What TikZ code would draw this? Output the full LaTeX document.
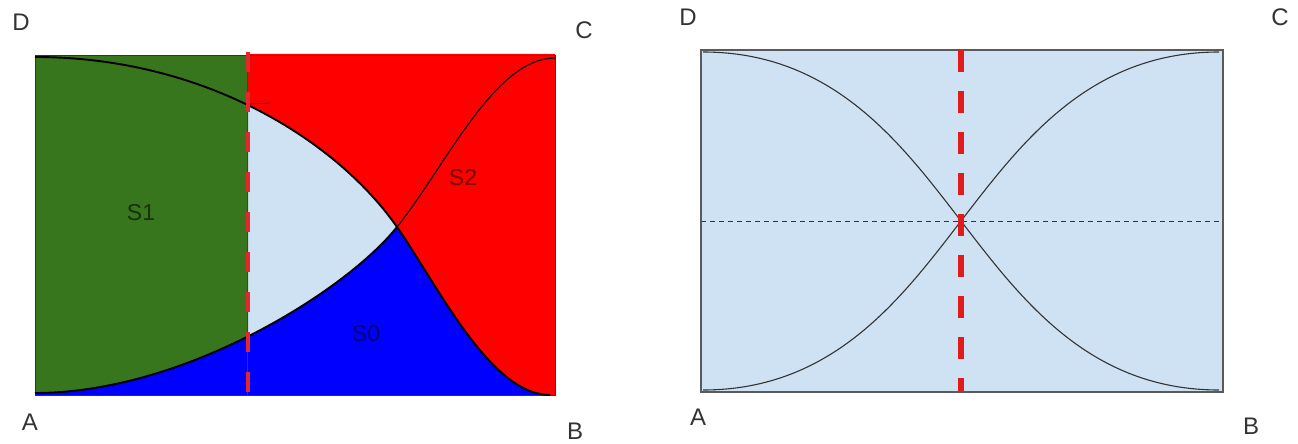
\documentclass[tikz,border=0pt]{standalone}
\usepackage{fontspec}
\setmainfont{Liberation Sans}
\definecolor{lblue}{HTML}{CFE2F3}
\definecolor{dgreen}{HTML}{38761D}
\definecolor{pure red}{HTML}{FF0000}
\definecolor{pure blue}{HTML}{0000FF}
\definecolor{dashred}{HTML}{E5262B}
\definecolor{dashredb}{HTML}{E01B1B}
\definecolor{frame}{HTML}{5A5A5A}
\definecolor{curvegray}{HTML}{333333}
\tikzset{
  corner/.style={font=\fontsize{24}{28}\selectfont, text=black!80, inner sep=0pt},
  region/.style={font=\fontsize{23}{27}\selectfont, inner sep=0pt},
  thickcurve/.style={line width=1.9pt, black},
  thincurve/.style={line width=1.1pt, black},
  reddashL/.style={line width=4pt, dashred, dash pattern=on 20pt off 20pt},
  reddashR/.style={line width=6pt, dashredb, dash pattern=on 22pt off 19pt},
  hdash/.style={line width=0.9pt, curvegray, dash pattern=on 5pt off 4pt},
  rcurve/.style={line width=1.1pt, curvegray},
}
\begin{document}
\begin{tikzpicture}[x=1pt,y=-1pt]
\useasboundingbox (0,0) rectangle (1298,444);
% ---------- left panel ----------
\fill[lblue] (35,56) rectangle (555,395);
% blue (below lower envelope)
\fill[pure blue] (35,395) -- (35,393) .. controls (185,393) and (347,290) .. (397,227)
   .. controls (437,284) and (490,395) .. (550,395) -- (555,395) -- cycle;
% red (right of dashed line, above descending curve)
\begin{scope}
  \clip (248,40) rectangle (600,400);
  \fill[pure red] (35,57) .. controls (205,57) and (337,141) .. (397,227)
     .. controls (437,284) and (490,395) .. (550,395) -- (555,395) -- (555,54) -- (35,54) -- cycle;
\end{scope}
% green (left of dashed line, above ascending curve)
\begin{scope}
  \clip (30,40) rectangle (248,400);
  \fill[dgreen] (35,56) -- (35,393) .. controls (185,393) and (347,290) .. (397,227) -- (397,56) -- cycle;
\end{scope}
\draw[line width=0.8pt, black!75] (247,56) -- (247,395);
\draw[line width=1pt, black!80] (35,56) rectangle (555,395);
% curves
\draw[thickcurve] (35,57) .. controls (205,57) and (337,141) .. (397,227)
   .. controls (437,284) and (490,395) .. (550,395);
\draw[thickcurve] (35,393) .. controls (185,393) and (347,290) .. (397,227);
\draw[thincurve] (397,227) .. controls (447,164) and (495,58) .. (555,58);
\draw[line width=0.8pt, black!80] (249,104) -- (270,103);
\draw[reddashL] (248,52) -- (248,395);
% labels
\node[corner] (DL) at (21,22) {D};
\node[corner] (AL) at (30,422) {A};
\node[corner] (CL) at (584,30) {C};
\node[corner] (BL) at (575,431) {B};
\node[region, text={rgb,255:red,22;green,50;blue,12}] (S1) at (141,213) {S1};
\node[region, text={rgb,255:red,120;green,0;blue,0}] (S2) at (463,178) {S2};
\node[region, text={rgb,255:red,0;green,0;blue,120}] (S0) at (366,334) {S0};
% ---------- right panel ----------
\fill[lblue] (701,50) rectangle (1223,392);
\draw[hdash] (701,221) -- (1223,221);
\draw[rcurve] (703,52) .. controls (833,52) and (901,143) .. (961,221)
   .. controls (1021,299) and (1089,390) .. (1219,390);
\draw[rcurve] (703,390) .. controls (833,390) and (901,299) .. (961,221)
   .. controls (1021,143) and (1089,52) .. (1219,52);
\draw[line width=1.2pt, frame] (701,50) rectangle (1223,392);
\draw[reddashR] (961,50) -- (961,392);
\node[corner] (DR) at (688,17) {D};
\node[corner] (AR) at (698,417) {A};
\node[corner] (CR) at (1280,17) {C};
\node[corner] (BR) at (1251,426) {B};
\end{tikzpicture}
\end{document}
